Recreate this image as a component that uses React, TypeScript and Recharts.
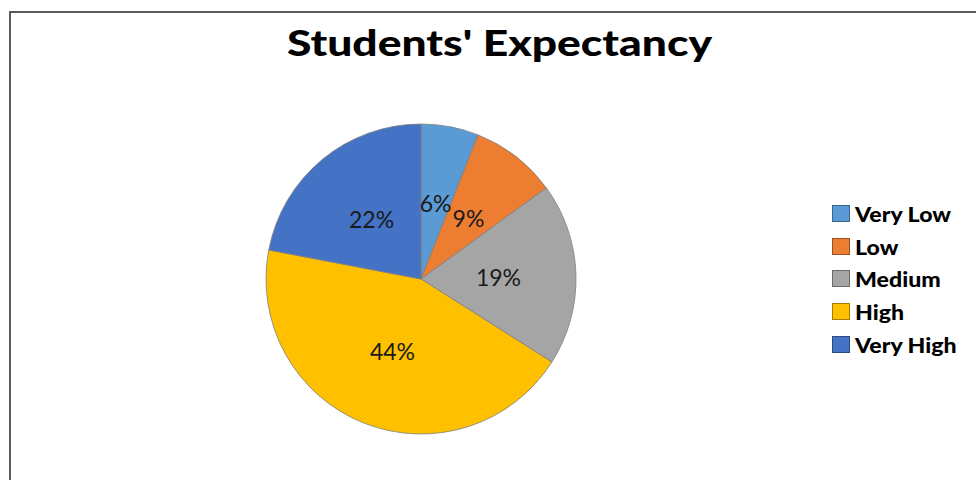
import React from 'react';
import { PieChart, Pie, Cell, Legend } from 'recharts';

// Survey answers (percent of students)
const levels = ['Very Low', 'Low', 'Medium', 'High', 'Very High'];
const shares = [6, 9, 19, 44, 22];
const sliceColors = ['#5B9BD5', '#ED7D31', '#A5A5A5', '#FFC000', '#4472C4'];
const chartTitle = "Students' Expectancy";

const data = levels.map((name, i) => ({ name, value: shares[i] }));
const RAD = Math.PI / 180;

const renderLabel = (props: any) => {
  const { cx, cy, midAngle, outerRadius, value } = props;
  const r = outerRadius * 0.5;
  const x = cx + r * Math.cos(-midAngle * RAD);
  const y = cy + r * Math.sin(-midAngle * RAD);
  return (
    <text
      x={x}
      y={y}
      textAnchor="middle"
      dominantBaseline="central"
      fill="#1a1a1a"
      fontSize={23}
      fontFamily="Lato"
    >
      {value}%
    </text>
  );
};

const renderLegend = () => (
  <div>
    {data.map((d, i) => (
      <div key={d.name} style={{ display: 'flex', alignItems: 'center', height: 32.7 }}>
        <span
          style={{
            width: 18,
            height: 17,
            background: sliceColors[i],
            border: '1px solid rgba(0,0,0,0.35)',
            boxSizing: 'border-box',
            marginRight: 5,
            flexShrink: 0,
          }}
        />
        <span
          style={{
            fontFamily: 'Lato',
            fontWeight: 900,
            fontSize: 21,
            color: '#000',
            display: 'inline-block',
            transform: 'scaleX(1.1)',
            transformOrigin: 'left center',
            whiteSpace: 'nowrap',
          }}
        >
          {d.name}
        </span>
      </div>
    ))}
  </div>
);

export default function App() {
  return (
    <div style={{ position: 'absolute', left: 0, top: 0, width: 976, height: 480, background: '#fff', overflow: 'hidden' }}>
      <div
        style={{
          position: 'absolute',
          left: 9,
          top: 11,
          width: 980,
          height: 480,
          borderLeft: '2px solid #5a5a5a',
          borderTop: '2px solid #5a5a5a',
        }}
      />
      <svg width={976} height={80} style={{ position: 'absolute', left: 0, top: 0 }}>
        <text
          x={287}
          y={56}
          textLength={425}
          lengthAdjust="spacingAndGlyphs"
          fontFamily="Lato"
          fontWeight={900}
          fontSize={36}
          fill="#000"
        >
          {chartTitle}
        </text>
      </svg>
      <div style={{ position: 'absolute', left: 0, top: 0 }}>
        <PieChart width={976} height={480} margin={{ top: 0, right: 0, bottom: 0, left: 0 }}>
          <Pie
            data={data}
            dataKey="value"
            nameKey="name"
            cx={421}
            cy={279}
            outerRadius={155}
            startAngle={90}
            endAngle={-270}
            stroke="#7f7f7f"
            strokeWidth={0.8}
            label={renderLabel}
            labelLine={false}
            isAnimationActive={false}
          >
            {data.map((d, i) => (
              <Cell key={d.name} fill={sliceColors[i]} />
            ))}
          </Pie>
          <Legend
            layout="vertical"
            content={renderLegend}
            wrapperStyle={{ left: 832, top: 197, width: 144 }}
          />
        </PieChart>
      </div>
    </div>
  );
}
